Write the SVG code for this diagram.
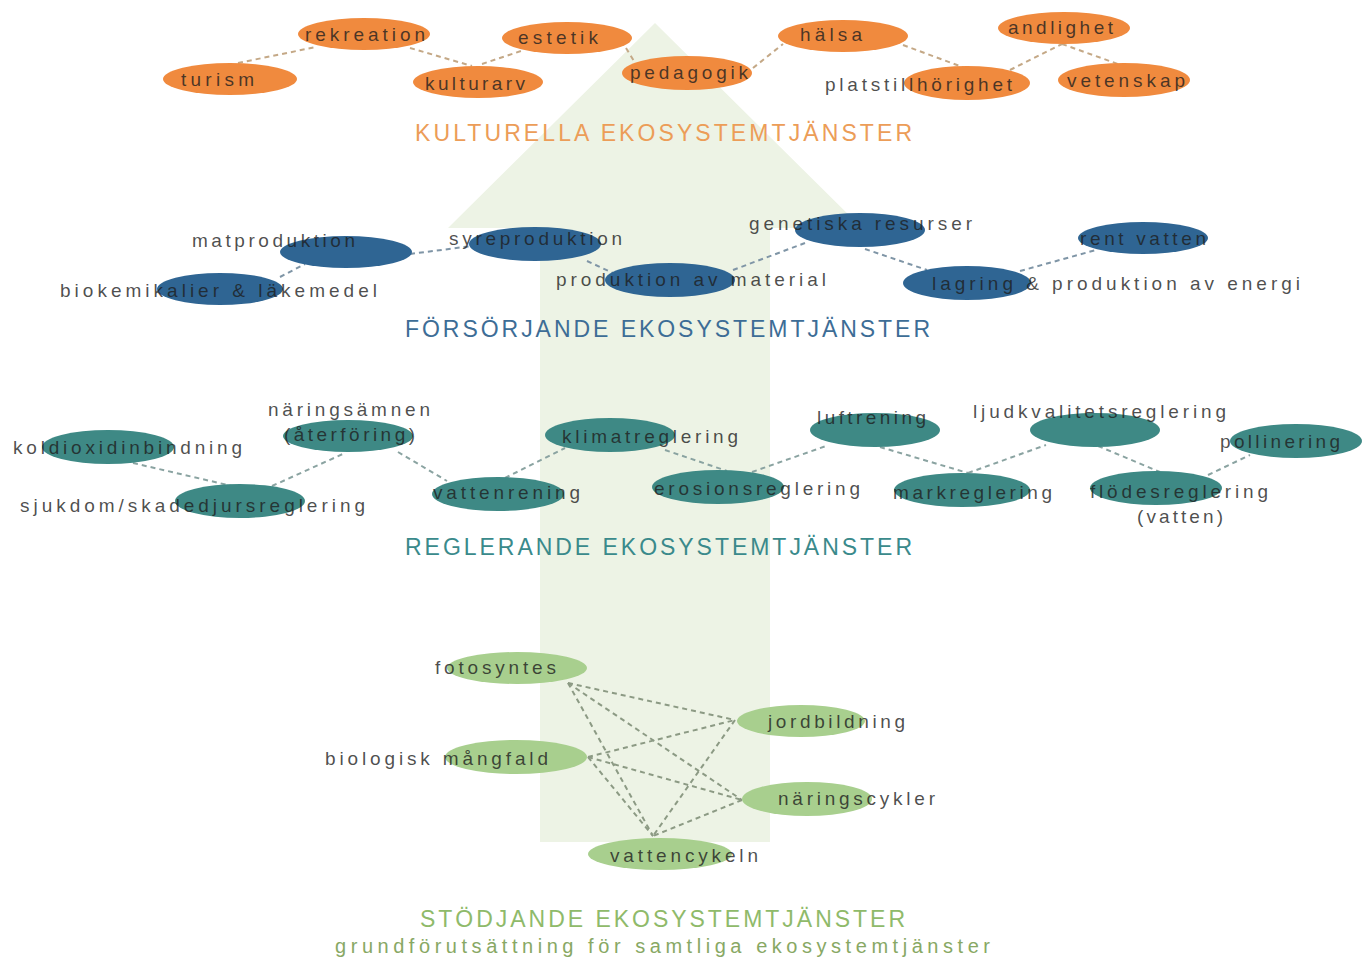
<svg xmlns="http://www.w3.org/2000/svg" width="1370" height="959" viewBox="0 0 1370 959">
<style>
.lbl{font-family:"Liberation Sans",Arial,sans-serif;font-size:19px;fill:#1e1e1e;fill-opacity:0.8}
.ttl{font-family:"Liberation Sans",Arial,sans-serif;font-size:23px}
.c{fill:none;stroke-width:2;stroke-dasharray:5 4}
.cc{stroke:#c4a886}
.cp{stroke:#7f95a6}
.cr{stroke:#8aa3a1}
.cs{stroke:#8c9a84}
.o{fill:#f08a3e}
.b{fill:#2f6593}
.t{fill:#3e8985}
.g{fill:#a8cf8e}
</style>
<rect width="1370" height="959" fill="#ffffff"/>
<polygon id="arrow" points="655,23 862,228 770,228 770,842 540,842 540,228 448,228" fill="#edf3e5"/>
<g id="connectors">
<line class="c cc" x1="238" y1="63" x2="316" y2="47"/>
<line class="c cc" x1="410" y1="48" x2="472" y2="66"/>
<line class="c cc" x1="482" y1="64" x2="524" y2="50"/>
<line class="c cc" x1="626" y1="48" x2="634" y2="61"/>
<line class="c cc" x1="753" y1="68" x2="783" y2="44"/>
<line class="c cc" x1="903" y1="45" x2="965" y2="68"/>
<line class="c cc" x1="1010" y1="70" x2="1062" y2="44"/>
<line class="c cc" x1="1062" y1="44" x2="1118" y2="64"/>
<line class="c cp" x1="280" y1="277" x2="305" y2="264"/>
<line class="c cp" x1="410" y1="254" x2="472" y2="246"/>
<line class="c cp" x1="587" y1="261" x2="613" y2="273"/>
<line class="c cp" x1="733" y1="270" x2="805" y2="243"/>
<line class="c cp" x1="865" y1="249" x2="927" y2="270"/>
<line class="c cp" x1="1020" y1="271" x2="1096" y2="250"/>
<line class="c cr" x1="133" y1="463" x2="232" y2="486"/>
<line class="c cr" x1="272" y1="486" x2="345" y2="453"/>
<line class="c cr" x1="398" y1="452" x2="447" y2="481"/>
<line class="c cr" x1="505" y1="478" x2="565" y2="448"/>
<line class="c cr" x1="665" y1="450" x2="727" y2="471"/>
<line class="c cr" x1="752" y1="472" x2="826" y2="446"/>
<line class="c cr" x1="880" y1="447" x2="968" y2="473"/>
<line class="c cr" x1="968" y1="473" x2="1046" y2="445"/>
<line class="c cr" x1="1098" y1="446" x2="1160" y2="472"/>
<line class="c cr" x1="1208" y1="475" x2="1250" y2="455"/>
<line class="c cs" x1="568" y1="683" x2="735" y2="720"/>
<line class="c cs" x1="568" y1="683" x2="742" y2="800"/>
<line class="c cs" x1="568" y1="683" x2="653" y2="836"/>
<line class="c cs" x1="588" y1="757" x2="735" y2="720"/>
<line class="c cs" x1="588" y1="757" x2="742" y2="800"/>
<line class="c cs" x1="588" y1="757" x2="653" y2="836"/>
<line class="c cs" x1="735" y1="720" x2="653" y2="836"/>
<line class="c cs" x1="742" y1="800" x2="653" y2="836"/>
</g>
<g id="n-turism"><ellipse class="o" cx="230" cy="79" rx="67" ry="16"/><text class="lbl" x="181" y="86" textLength="73">turism</text></g>
<g id="n-rekreation"><ellipse class="o" cx="364" cy="34" rx="66" ry="16"/><text class="lbl" x="305" y="41" textLength="120">rekreation</text></g>
<g id="n-kulturarv"><ellipse class="o" cx="478" cy="82" rx="65" ry="16"/><text class="lbl" x="425" y="90" textLength="100">kulturarv</text></g>
<g id="n-estetik"><ellipse class="o" cx="567" cy="38" rx="65" ry="16"/><text class="lbl" x="518" y="44" textLength="80">estetik</text></g>
<g id="n-pedagogik"><ellipse class="o" cx="687" cy="73" rx="65" ry="17"/><text class="lbl" x="630" y="79" textLength="118">pedagogik</text></g>
<g id="n-halsa"><ellipse class="o" cx="843" cy="36" rx="65" ry="16"/><text class="lbl" x="800" y="41" textLength="62">hälsa</text></g>
<g id="n-andlighet"><ellipse class="o" cx="1064" cy="28" rx="66" ry="16"/><text class="lbl" x="1008" y="34" textLength="105">andlighet</text></g>
<g id="n-platstillhorighet"><ellipse class="o" cx="967" cy="83" rx="63" ry="17"/><text class="lbl" x="825" y="91" textLength="187">platstillhörighet</text></g>
<g id="n-vetenskap"><ellipse class="o" cx="1124" cy="80" rx="66" ry="17"/><text class="lbl" x="1067" y="87" textLength="118">vetenskap</text></g>
<g id="t-kulturella"><text class="ttl" x="415" y="141" textLength="497" fill="#ec9d58">KULTURELLA EKOSYSTEMTJÄNSTER</text></g>
<g id="n-matproduktion"><ellipse class="b" cx="346" cy="252" rx="66" ry="16"/><text class="lbl" x="192" y="247" textLength="163">matproduktion</text></g>
<g id="n-biokemikalier"><ellipse class="b" cx="220" cy="289" rx="63" ry="16"/><text class="lbl" x="60" y="297" textLength="317">biokemikalier &amp; läkemedel</text></g>
<g id="n-syreproduktion"><ellipse class="b" cx="535" cy="244" rx="66" ry="17"/><text class="lbl" x="449" y="245" textLength="173">syreproduktion</text></g>
<g id="n-material"><ellipse class="b" cx="670" cy="280" rx="65" ry="17"/><text class="lbl" x="556" y="286" textLength="270">produktion av material</text></g>
<g id="n-genetiska"><ellipse class="b" cx="860" cy="230" rx="65" ry="17"/><text class="lbl" x="749" y="230" textLength="223">genetiska resurser</text></g>
<g id="n-rentvatten"><ellipse class="b" cx="1143" cy="238" rx="65" ry="16"/><text class="lbl" x="1080" y="245" textLength="126">rent vatten</text></g>
<g id="n-energi"><ellipse class="b" cx="967" cy="283" rx="64" ry="17"/><text class="lbl" x="932" y="290" textLength="368">lagring &amp; produktion av energi</text></g>
<g id="t-forsorjande"><text class="ttl" x="405" y="337" textLength="525" fill="#3d6d96">FÖRSÖRJANDE EKOSYSTEMTJÄNSTER</text></g>
<g id="n-koldioxid"><ellipse class="t" cx="108" cy="447" rx="66" ry="17"/><text class="lbl" x="13" y="454" textLength="229">koldioxidinbindning</text></g>
<g id="n-naringsamnen"><ellipse class="t" cx="348" cy="436" rx="65" ry="16"/><text class="lbl" x="268" y="416" textLength="162">näringsämnen</text><text class="lbl" x="284" y="441" textLength="131">(återföring)</text></g>
<g id="n-sjukdom"><ellipse class="t" cx="240" cy="501" rx="65" ry="17"/><text class="lbl" x="20" y="512" textLength="345">sjukdom/skadedjursreglering</text></g>
<g id="n-vattenrening"><ellipse class="t" cx="498" cy="494" rx="66" ry="17"/><text class="lbl" x="433" y="499" textLength="147">vattenrening</text></g>
<g id="n-klimat"><ellipse class="t" cx="610" cy="435" rx="65" ry="17"/><text class="lbl" x="562" y="443" textLength="176">klimatreglering</text></g>
<g id="n-erosion"><ellipse class="t" cx="718" cy="487" rx="66" ry="17"/><text class="lbl" x="654" y="495" textLength="206">erosionsreglering</text></g>
<g id="n-luftrening"><ellipse class="t" cx="875" cy="430" rx="65" ry="17"/><text class="lbl" x="817" y="424" textLength="109">luftrening</text></g>
<g id="n-ljud"><ellipse class="t" cx="1095" cy="430" rx="65" ry="17"/><text class="lbl" x="973" y="418" textLength="253">ljudkvalitetsreglering</text></g>
<g id="n-mark"><ellipse class="t" cx="962" cy="490" rx="68" ry="17"/><text class="lbl" x="893" y="499" textLength="159">markreglering</text></g>
<g id="n-flodes"><ellipse class="t" cx="1156" cy="488" rx="66" ry="17"/><text class="lbl" x="1090" y="498" textLength="178">flödesreglering</text><text class="lbl" x="1137" y="523" textLength="86">(vatten)</text></g>
<g id="n-pollinering"><ellipse class="t" cx="1296" cy="441" rx="66" ry="17"/><text class="lbl" x="1220" y="448" textLength="120">pollinering</text></g>
<g id="t-reglerande"><text class="ttl" x="405" y="555" textLength="507" fill="#3a8a8b">REGLERANDE EKOSYSTEMTJÄNSTER</text></g>
<g id="n-fotosyntes"><ellipse class="g" cx="517" cy="668" rx="70" ry="16"/><text class="lbl" x="435" y="674" textLength="121">fotosyntes</text></g>
<g id="n-jordbildning"><ellipse class="g" cx="801" cy="721" rx="64" ry="16"/><text class="lbl" x="768" y="728" textLength="137">jordbildning</text></g>
<g id="n-biologisk"><ellipse class="g" cx="516" cy="757" rx="71" ry="17"/><text class="lbl" x="325" y="765" textLength="223">biologisk mångfald</text></g>
<g id="n-naringscykler"><ellipse class="g" cx="807" cy="799" rx="65" ry="17"/><text class="lbl" x="778" y="805" textLength="157">näringscykler</text></g>
<g id="n-vattencykeln"><ellipse class="g" cx="660" cy="854" rx="72" ry="16"/><text class="lbl" x="610" y="862" textLength="148">vattencykeln</text></g>
<g id="t-stodjande"><text class="ttl" x="420" y="927" textLength="485" fill="#8fba6a">STÖDJANDE EKOSYSTEMTJÄNSTER</text><text class="ttl" x="335" y="953" textLength="655" fill="#88a864" style="font-size:20px">grundförutsättning för samtliga ekosystemtjänster</text></g>
</svg>
